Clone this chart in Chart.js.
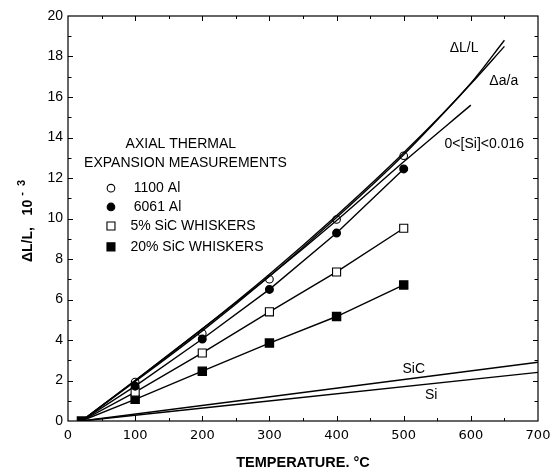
<!DOCTYPE html>
<html>
<head>
<meta charset="utf-8">
<script src="https://cdn.jsdelivr.net/npm/chart.js@4"></script>
<style>
  body { margin: 0; background: #fff; }
  canvas { display: block; }
</style>
</head>
<body>
<canvas id="chart" width="551" height="472"></canvas>
<script>
// Temperatures (deg C) of the measured points
const tempsMeasured = [20, 100, 200, 300, 400, 500];

// Measured dL/L (x 10^-3)
const al1100 = [0, 1.92, 4.32, 7.0, 9.95, 13.1];
const al6061 = [0, 1.72, 4.05, 6.5, 9.28, 12.45];
const sic5 = [0, 1.43, 3.36, 5.39, 7.36, 9.52];
const sic20 = [0, 1.07, 2.46, 3.85, 5.16, 6.72];

// Calculated curves
const tempsCurve = [20, 100, 200, 300, 400, 500, 600, 650];
const dLL = [0, 2.0, 4.55, 7.25, 10.15, 13.25, 16.68, 18.8];
const daa = [0, 1.95, 4.45, 7.15, 10.05, 13.15, 16.65, 18.5];

const tempsSi016 = [20, 100, 200, 300, 400, 500, 600];
const si016 = [0, 2.0, 4.55, 7.15, 9.9, 12.8, 15.6];

const tempsRef = [20, 700];
const sicRef = [0, 2.9];
const siRef = [0, 2.4];

const xTicks = [0, 100, 200, 300, 400, 500, 600, 700];
const yTicks = [0, 2, 4, 6, 8, 10, 12, 14, 16, 18, 20];

const pts = (xs, ys) => xs.map((x, i) => ({ x: x, y: ys[i] }));

const INK = '#000';
const LW = 1.4;

// Helper for curve-only datasets
function curve(data) {
  return {
    data: data,
    showLine: true,
    borderColor: INK,
    borderWidth: LW,
    pointRadius: 0,
    cubicInterpolationMode: 'monotone',
    fill: false
  };
}

// Axis box, inner ticks, titles and annotations
const decorations = {
  id: 'decorations',
  afterDraw(chart) {
    const ctx = chart.ctx;
    const xs = chart.scales.x;
    const ys = chart.scales.y;
    const a = chart.chartArea;
    ctx.save();
    ctx.strokeStyle = INK;
    ctx.fillStyle = INK;
    ctx.lineWidth = 1.2;
    ctx.strokeRect(a.left, a.top, a.right - a.left, a.bottom - a.top);

    ctx.lineWidth = 1;
    ctx.beginPath();
    for (let t = 50; t < 700; t += 50) {
      const px = Math.round(xs.getPixelForValue(t)) + 0.5;
      const len = t % 100 === 0 ? 5 : 3;
      ctx.moveTo(px, a.bottom); ctx.lineTo(px, a.bottom - len);
      ctx.moveTo(px, a.top); ctx.lineTo(px, a.top + len);
    }
    for (let v = 1; v < 20; v++) {
      const py = Math.round(ys.getPixelForValue(v)) + 0.5;
      const len = v % 2 === 0 ? 5 : 3.5;
      ctx.moveTo(a.left, py); ctx.lineTo(a.left + len, py);
      ctx.moveTo(a.right, py); ctx.lineTo(a.right - len, py);
    }
    ctx.stroke();

    // x title
    ctx.font = 'bold 14.5px "Liberation Sans", Arial, sans-serif';
    ctx.textAlign = 'center';
    ctx.textBaseline = 'middle';
    ctx.fillText('TEMPERATURE. °C', (a.left + a.right) / 2, 463);

    // y title with superscript
    ctx.save();
    ctx.translate(28, 230);
    ctx.rotate(-Math.PI / 2);
    ctx.font = 'bold 14px "Liberation Sans", Arial, sans-serif';
    ctx.textAlign = 'left';
    ctx.fillText('\u0394L/L,   10', -32, 0);
    const w = ctx.measureText('\u0394L/L,   10').width;
    ctx.font = 'bold 11px "Liberation Sans", Arial, sans-serif';
    ctx.fillText('-  3', -32 + w + 4, -6);
    ctx.restore();

    // annotations placed in data coordinates
    const at = (x, y) => [xs.getPixelForValue(x), ys.getPixelForValue(y)];
    ctx.font = '14px "Liberation Sans", Arial, sans-serif';
    ctx.textAlign = 'center';
    let p;
    p = at(590, 18.42); ctx.fillText('\u0394L/L', p[0], p[1]);
    p = at(649, 16.79); ctx.fillText('\u0394a/a', p[0], p[1]);
    p = at(620, 13.68); ctx.fillText('0<[Si]<0.016', p[0], p[1]);
    p = at(515, 2.57); ctx.fillText('SiC', p[0], p[1]);
    p = at(541, 1.28); ctx.fillText('Si', p[0], p[1]);

    // legend block
    p = at(168, 13.68); ctx.fillText('AXIAL THERMAL', p[0], p[1]);
    p = at(175, 12.74); ctx.fillText('EXPANSION MEASUREMENTS', p[0], p[1]);
    const rows = [
      ['circle', false, '1100 Al', 11.5],
      ['circle', true, '6061 Al', 10.57],
      ['square', false, '5% SiC WHISKERS', 9.63],
      ['square', true, '20% SiC WHISKERS', 8.6]
    ];
    ctx.textAlign = 'left';
    rows.forEach(r => {
      const m = at(64, r[3]);
      ctx.beginPath();
      if (r[0] === 'circle') ctx.arc(m[0], m[1], 3.8, 0, Math.PI * 2);
      else ctx.rect(m[0] - 4, m[1] - 4, 8, 8);
      ctx.fillStyle = r[1] ? INK : '#fff';
      ctx.fill();
      ctx.lineWidth = 1.1;
      ctx.stroke();
      ctx.fillStyle = INK;
      const tp = at(r[0] === 'circle' ? 98 : 93, r[3]);
      ctx.fillText(r[2], tp[0], tp[1]);
    });
    ctx.restore();
  }
};

new Chart(document.getElementById('chart'), {
  type: 'scatter',
  data: {
    datasets: [
      curve(pts(tempsCurve, dLL)),
      curve(pts(tempsCurve, daa)),
      curve(pts(tempsSi016, si016)),
      curve(pts(tempsRef, sicRef)),
      curve(pts(tempsRef, siRef)),
      {
        data: pts(tempsMeasured, al6061),
        showLine: true,
        borderColor: INK,
        borderWidth: LW,
        pointStyle: 'circle',
        pointRadius: [0, 3.8, 3.8, 3.8, 3.8, 3.8],
        pointBackgroundColor: INK,
        pointBorderColor: INK
      },
      {
        data: pts(tempsMeasured, sic5),
        showLine: true,
        borderColor: INK,
        borderWidth: LW,
        pointStyle: 'rect',
        pointRadius: [0, 5.7, 5.7, 5.7, 5.7, 5.7],
        pointBackgroundColor: '#fff',
        pointBorderColor: INK,
        pointBorderWidth: 1.1
      },
      {
        data: pts(tempsMeasured, sic20),
        showLine: true,
        borderColor: INK,
        borderWidth: LW,
        pointStyle: 'rect',
        pointRadius: 5.7,
        pointBackgroundColor: INK,
        pointBorderColor: INK
      },
      {
        data: pts(tempsMeasured, al1100),
        showLine: false,
        pointStyle: 'circle',
        pointRadius: [0, 3.8, 3.8, 3.8, 3.8, 3.8],
        pointBackgroundColor: '#fff',
        pointBorderColor: INK,
        pointBorderWidth: 1.1
      }
    ]
  },
  options: {
    responsive: false,
    animation: false,
    devicePixelRatio: 1,
    layout: { padding: { left: 0, right: 13, top: 16, bottom: 0 } },
    plugins: { legend: { display: false }, tooltip: { enabled: false } },
    scales: {
      x: {
        type: 'linear',
        min: 0,
        max: 700,
        afterFit: s => { s.height = 51; s.paddingLeft = 0; s.paddingRight = 0; },
        afterBuildTicks: s => { s.ticks = xTicks.map(v => ({ value: v })); },
        grid: { display: false, drawTicks: false },
        border: { display: false },
        ticks: {
          color: INK,
          padding: 7,
          maxRotation: 0,
          font: { family: '"DejaVu Sans", sans-serif', size: 13 }
        }
      },
      y: {
        type: 'linear',
        min: 0,
        max: 20,
        afterFit: s => { s.width = 68; s.paddingTop = 0; s.paddingBottom = 0; },
        afterBuildTicks: s => { s.ticks = yTicks.map(v => ({ value: v })); },
        grid: { display: false, drawTicks: false },
        border: { display: false },
        ticks: {
          color: INK,
          padding: 5,
          font: { family: '"Liberation Sans", Arial, sans-serif', size: 14 }
        }
      }
    }
  },
  plugins: [decorations]
});
</script>
</body>
</html>
